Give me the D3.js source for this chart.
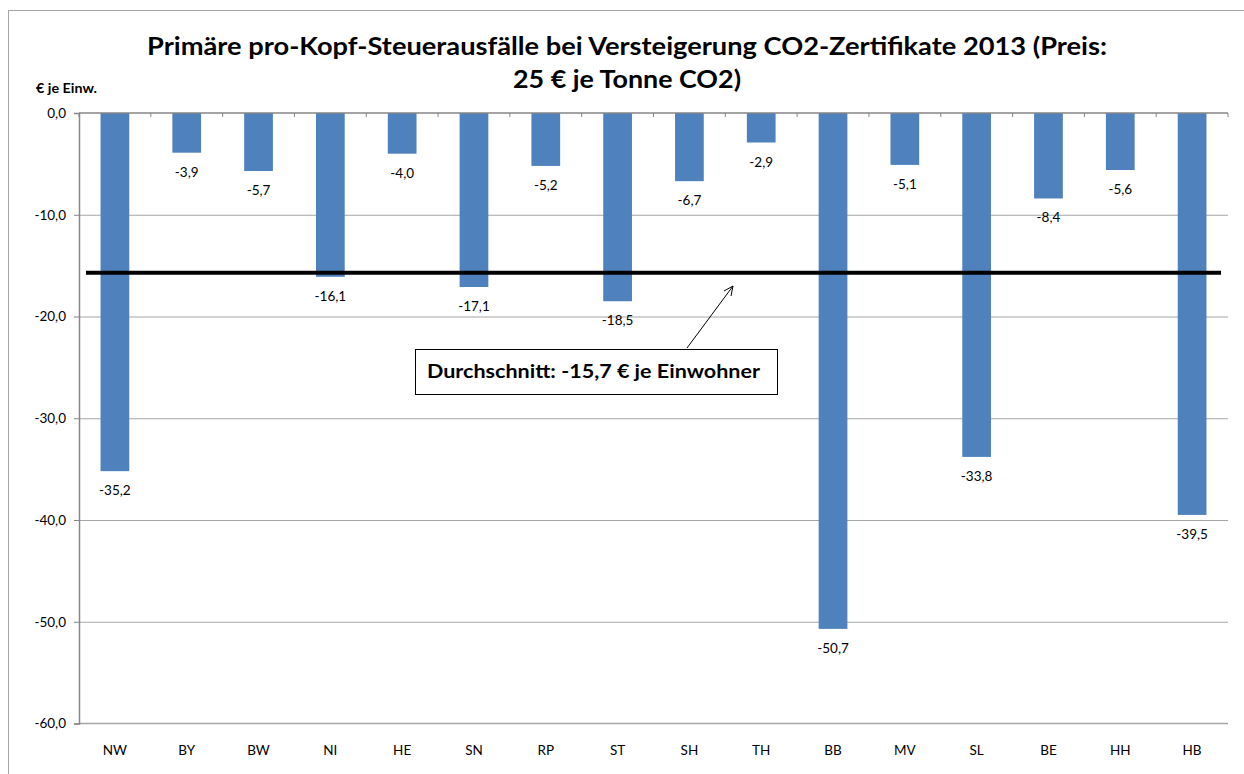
<!DOCTYPE html>
<html><head><meta charset="utf-8">
<script src="https://cdn.jsdelivr.net/npm/d3@7"></script>
<style>body{margin:0;background:#fff;}svg{display:block;}</style>
</head><body>
<svg id="c" width="1244" height="774"></svg>
<script>
const categories = ["NW","BY","BW","NI","HE","SN","RP","ST","SH","TH","BB","MV","SL","BE","HH","HB"];
const values = [-35.2,-3.9,-5.7,-16.1,-4.0,-17.1,-5.2,-18.5,-6.7,-2.9,-50.7,-5.1,-33.8,-8.4,-5.6,-39.5];
const yTicks = [0,-10,-20,-30,-40,-50,-60];
const average = -15.7;
const titleLines = ["Primäre pro-Kopf-Steuerausfälle bei Versteigerung CO2-Zertifikate 2013 (Preis:", "25 € je Tonne CO2)"];
const yLabel = "€ je Einw.";
const avgLabel = "Durchschnitt: -15,7 € je Einwohner";

const fmt = v => d3.format(".1f")(v).replace("−","-").replace(".", ",");
const svg = d3.select("#c");
const font = "Lato, 'Open Sans', sans-serif";

// outer frame
svg.append("rect").attr("x",8.5).attr("y",10.5).attr("width",1260).attr("height",800)
  .attr("fill","none").attr("stroke","#a6a6a6").attr("stroke-width",1);

const L = 79, R = 1228, T = 113, B = 723.5;
const x = d3.scaleBand().domain(categories).range([L,R]).paddingInner(0.6).paddingOuter(0.3);
const y = d3.scaleLinear().domain([0,-60]).range([T,B]);

// gridlines
svg.append("g").selectAll("line").data(yTicks.filter(d=>d!==0 && d!==-60)).join("line")
  .attr("x1",L).attr("x2",R).attr("y1",d=>y(d)+0.5).attr("y2",d=>y(d)+0.5)
  .attr("stroke","#a6a6a6").attr("stroke-width",1);
svg.append("line").attr("x1",L).attr("x2",R).attr("y1",y(-60)).attr("y2",y(-60))
  .attr("stroke","#a6a6a6").attr("stroke-width",1.5);

// bars
svg.append("g").selectAll("rect").data(values).join("rect")
  .attr("x",(d,i)=>x(categories[i])).attr("width",x.bandwidth())
  .attr("y",y(0)).attr("height",d=>y(d)-y(0)).attr("fill","#4f81bd");

// y axis
const yAxis = d3.axisLeft(y).tickValues(yTicks).tickSize(5).tickPadding(8).tickFormat(fmt);
const gy = svg.append("g").attr("transform",`translate(${L},0)`).call(yAxis);
gy.select(".domain").attr("stroke","#868686").attr("stroke-width",1.5);
gy.selectAll(".tick line").attr("stroke","#868686");
gy.selectAll("text").attr("font-family",font).attr("font-size",13.5).attr("fill","#000");

// x axis at 0 with ticks at band boundaries
const gx = svg.append("g");
gx.append("line").attr("x1",L).attr("x2",R).attr("y1",y(0)).attr("y2",y(0))
  .attr("stroke","#868686").attr("stroke-width",1.5);
const bounds = d3.range(categories.length+1).map(i=>L+i*(R-L)/categories.length);
gx.selectAll("line.tk").data(bounds).join("line").attr("class","tk")
  .attr("x1",d=>d).attr("x2",d=>d).attr("y1",y(0)).attr("y2",y(0)+4)
  .attr("stroke","#868686");

// category labels at bottom
svg.append("g").selectAll("text").data(categories).join("text")
  .attr("x",d=>x(d)+x.bandwidth()/2).attr("y",755)
  .attr("text-anchor","middle").attr("font-family",font).attr("font-size",13.5).text(d=>d);

// value labels
svg.append("g").selectAll("text").data(values).join("text")
  .attr("x",(d,i)=>x(categories[i])+x.bandwidth()/2).attr("y",d=>y(d)+24)
  .attr("text-anchor","middle").attr("font-family",font).attr("font-size",13.5).text(d=>fmt(d));

// average line
svg.append("line").attr("x1",86).attr("x2",1221).attr("y1",y(average)).attr("y2",y(average))
  .attr("stroke","#000").attr("stroke-width",4);

// annotation
svg.append("line").attr("x1",687).attr("y1",348).attr("x2",733).attr("y2",286)
  .attr("stroke","#000").attr("stroke-width",1);
svg.append("path").attr("d","M733,286 L724,291 M733,286 L731,296").attr("stroke","#000").attr("fill","none");
svg.append("rect").attr("x",415.5).attr("y",349.5).attr("width",362).attr("height",45)
  .attr("fill","#fff").attr("stroke","#000").attr("stroke-width",1);
svg.append("text").attr("x",427).attr("y",378).attr("font-family",font).attr("font-weight","bold")
  .attr("font-size",18.5).attr("textLength",333).attr("lengthAdjust","spacingAndGlyphs").text(avgLabel);

// title
svg.append("text").attr("x",627).attr("y",55).attr("text-anchor","middle").attr("font-family",font)
  .attr("font-weight","bold").attr("font-size",24).attr("textLength",960).attr("lengthAdjust","spacingAndGlyphs").text(titleLines[0]);
svg.append("text").attr("x",627).attr("y",88).attr("text-anchor","middle").attr("font-family",font)
  .attr("font-weight","bold").attr("font-size",24).attr("textLength",228).attr("lengthAdjust","spacingAndGlyphs").text(titleLines[1]);

// y label
svg.append("text").attr("x",36).attr("y",93).attr("font-family",font).attr("font-weight","bold")
  .attr("font-size",13.5).attr("textLength",61).attr("lengthAdjust","spacingAndGlyphs").text(yLabel);
</script>
</body></html>
